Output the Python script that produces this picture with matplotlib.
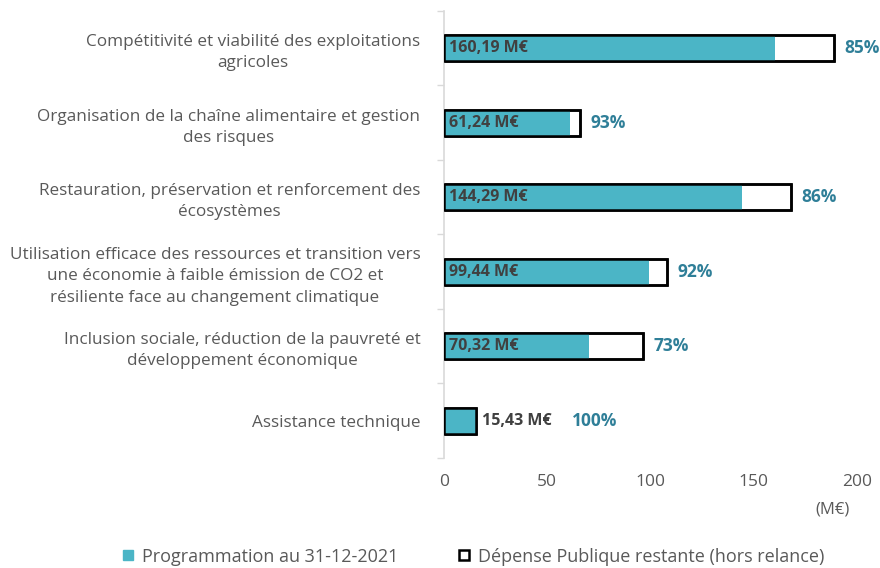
import matplotlib
matplotlib.use("Agg")
import matplotlib.pyplot as plt
from matplotlib.lines import Line2D
import numpy as np

# Chart data
categories = [
    "Compétitivité et viabilité des exploitations\nagricoles",
    "Organisation de la chaîne alimentaire et gestion\ndes risques",
    "Restauration, préservation et renforcement des\nécosystèmes",
    "Utilisation efficace des ressources et transition vers\nune économie à faible émission de CO2 et\nrésiliente face au changement climatique",
    "Inclusion sociale, réduction de la pauvreté et\ndéveloppement économique",
    "Assistance technique",
]
programmed = [160.19, 61.24, 144.29, 99.44, 70.32, 15.43]
remaining = [28.5, 4.6, 23.5, 8.7, 26.0, 0.0]
value_labels = ["160,19 M€", "61,24 M€", "144,29 M€", "99,44 M€", "70,32 M€", "15,43 M€"]
pct_labels = ["85%", "93%", "86%", "92%", "73%", "100%"]
x_ticks = [0, 50, 100, 150, 200]

TEAL = "#4BB5C6"
PCT_COLOR = "#2F7F98"
TEXT = "#595959"

plt.rcParams["font.family"] = ["Open Sans", "DejaVu Sans"]

fig = plt.figure(figsize=(8.8, 5.68), dpi=100)
ax = fig.add_axes([0.5045, 0.194, 0.4695, 0.787])

y = np.arange(len(categories))
h = 0.35
totals = [p + r for p, r in zip(programmed, remaining)]

# outlined total bar, then teal programmed part on top
ax.barh(y, totals, height=h, color="white", edgecolor="black", linewidth=1.8, zorder=2)
ax.barh(y, programmed, height=h, color=TEAL, edgecolor="none", zorder=3)
# redraw outline over teal
ax.barh(y, totals, height=h, color="none", edgecolor="black", linewidth=1.8, zorder=4)

for i in range(len(categories)):
    if remaining[i] == 0:
        ax.text(totals[i] + 3, y[i], value_labels[i], va="center", ha="left",
                fontsize=11.5, fontweight="bold", color="#404040", zorder=5)
        ax.text(totals[i] + 46.5, y[i], pct_labels[i], va="center", ha="left",
                fontsize=12.5, fontweight="bold", color=PCT_COLOR, zorder=5)
    else:
        ax.text(2.5, y[i], value_labels[i], va="center", ha="left",
                fontsize=11.5, fontweight="bold", color="#404040", zorder=5)
        ax.text(totals[i] + 5, y[i], pct_labels[i], va="center", ha="left",
                fontsize=12.5, fontweight="bold", color=PCT_COLOR, zorder=5)

ax.set_xlim(0, 200)
ax.set_ylim(len(categories) - 0.5, -0.5)
ax.set_yticks(y)
ax.set_yticklabels(categories, fontsize=12.3, color=TEXT, multialignment="center",
                   linespacing=1.45)
ax.set_yticks(np.arange(len(categories) + 1) - 0.5, minor=True)
ax.tick_params(axis="y", which="major", length=0, pad=17)
ax.tick_params(axis="y", which="minor", length=5, color="#D9D9D9", width=1)
ax.set_xticks(x_ticks)
ax.set_xticklabels([str(t) for t in x_ticks], fontsize=12.5, color=TEXT)
ax.tick_params(axis="x", length=0, pad=12)

for side in ["top", "right", "bottom"]:
    ax.spines[side].set_visible(False)
ax.spines["left"].set_color("#D9D9D9")
ax.spines["left"].set_linewidth(1.2)

ax.text(188, -0.115, "(M€)", transform=ax.get_xaxis_transform(), ha="center", va="center",
        fontsize=12, color=TEXT)

# legend
handles = [
    Line2D([], [], marker="s", linestyle="none", markersize=7, markerfacecolor=TEAL,
           markeredgecolor=TEAL),
    Line2D([], [], marker="s", linestyle="none", markersize=7, markerfacecolor="white",
           markeredgecolor="black", markeredgewidth=1.8),
]
fig.legend(handles, ["Programmation au 31-12-2021", "Dépense Publique restante (hors relance)"],
           loc="center", bbox_to_anchor=(0.535, 0.02), ncol=2, frameon=False, fontsize=13,
           labelcolor=TEXT, columnspacing=3.0, handletextpad=0.2, handlelength=1.2)

fig.savefig("out.png", dpi=100)
